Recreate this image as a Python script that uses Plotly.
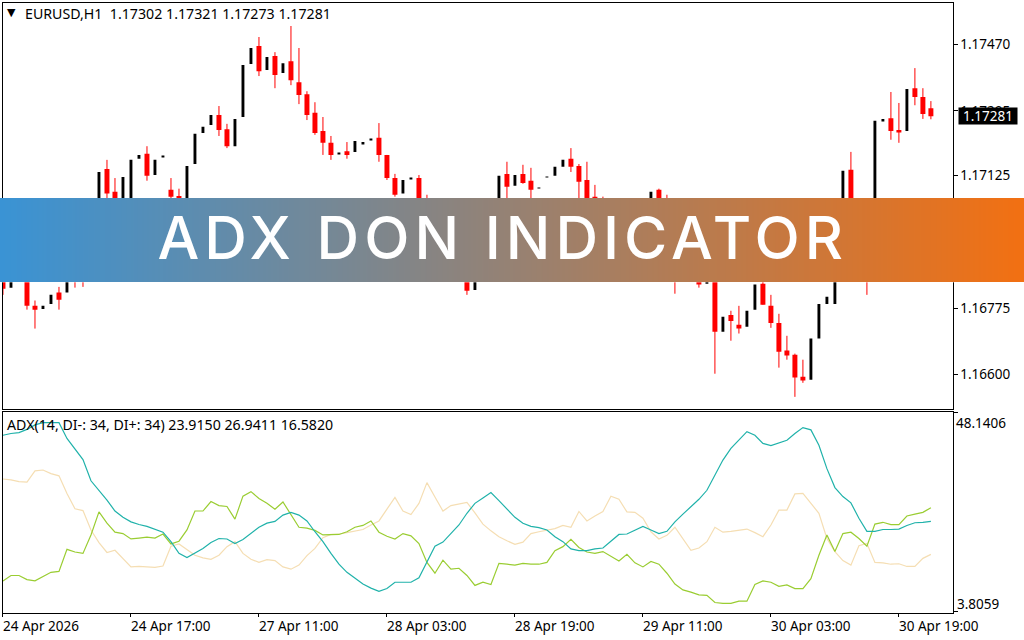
import plotly.graph_objects as go

symbol_line = "EURUSD,H1&nbsp;&nbsp;1.17302 1.17321 1.17273 1.17281"
adx_line = "ADX(14, DI-: 34, DI+: 34) 23.9150 26.9411 16.5820"
banner_text = "ADX DON INDICATOR"
last_price = "1.17281"

opens = [1.16981,1.16829,1.16862,1.16850,1.16781,1.16773,1.16786,1.16816,1.16816,1.16870,
1.16880,1.16860,1.16990,1.17142,1.17082,1.17000,1.17040,1.17169,1.17182,1.17126,
1.17173,1.17087,1.17071,1.17030,1.17155,1.17237,1.17258,1.17284,1.17247,1.17202,
1.17279,1.17419,1.17466,1.17403,1.17440,1.17395,1.17426,1.17371,1.17339,1.17290,
1.17242,1.17211,1.17181,1.17189,1.17187,1.17208,1.17218,1.17224,1.17179,1.17118,
1.17077,1.17115,1.17118,1.17040,1.17000,1.16960,1.16990,1.16930,1.16880,1.16823,
1.16880,1.16950,1.17010,1.17129,1.17098,1.17129,1.17111,1.17091,1.17120,1.17124,
1.17148,1.17169,1.17150,1.17113,1.17069,1.17040,1.17010,1.16980,1.17000,1.16970,
1.16990,1.17040,1.17087,1.17020,1.16960,1.16900,1.16880,1.16870,1.16839,1.16870,
1.16713,1.16757,1.16731,1.16726,1.16771,1.16839,1.16781,1.16736,1.16663,1.16652,
1.16594,1.16586,1.16695,1.16786,1.16786,1.16900,1.17140,1.16990,1.16950,1.16880,
1.17269,1.17276,1.17245,1.17242,1.17355,1.17332,1.17302]
closes = [1.16826,1.16862,1.16850,1.16781,1.16771,1.16781,1.16810,1.16797,1.16870,1.16850,
1.16855,1.16990,1.17134,1.17077,1.17000,1.17121,1.17166,1.17179,1.17124,1.17166,
1.17175,1.17069,1.17030,1.17150,1.17235,1.17253,1.17284,1.17245,1.17202,1.17274,
1.17416,1.17461,1.17400,1.17437,1.17390,1.17421,1.17376,1.17337,1.17284,1.17237,
1.17211,1.17179,1.17183,1.17179,1.17216,1.17213,1.17220,1.17179,1.17118,1.17074,
1.17113,1.17117,1.17040,1.17000,1.16960,1.16990,1.16930,1.16880,1.16821,1.16880,
1.16950,1.17010,1.17124,1.17095,1.17126,1.17105,1.17087,1.17093,1.17122,1.17148,
1.17166,1.17148,1.17108,1.17040,1.17050,1.17010,1.16980,1.17000,1.16970,1.16990,
1.17040,1.17082,1.17020,1.16960,1.16900,1.16880,1.16895,1.16837,1.16870,1.16713,
1.16752,1.16741,1.16721,1.16768,1.16837,1.16784,1.16736,1.16660,1.16650,1.16592,
1.16584,1.16695,1.16786,1.16805,1.16900,1.17137,1.16990,1.16950,1.16880,1.17269,
1.17274,1.17242,1.17240,1.17353,1.17332,1.17287,1.17281]
highs = [1.17008,1.16862,1.16875,1.16855,1.16795,1.16781,1.16810,1.16831,1.16870,1.16880,
1.16890,1.16990,1.17134,1.17166,1.17118,1.17121,1.17166,1.17179,1.17202,1.17166,
1.17175,1.17118,1.17090,1.17150,1.17235,1.17253,1.17284,1.17308,1.17261,1.17274,
1.17416,1.17461,1.17490,1.17437,1.17450,1.17421,1.17519,1.17461,1.17347,1.17318,
1.17279,1.17229,1.17183,1.17213,1.17216,1.17213,1.17220,1.17263,1.17179,1.17129,
1.17113,1.17117,1.17126,1.17074,1.17010,1.16990,1.17000,1.16945,1.16890,1.16880,
1.16950,1.17010,1.17124,1.17161,1.17126,1.17153,1.17145,1.17093,1.17122,1.17148,
1.17166,1.17197,1.17155,1.17161,1.17100,1.17069,1.17020,1.17000,1.17010,1.16990,
1.17040,1.17082,1.17090,1.17074,1.16970,1.16910,1.16895,1.16880,1.16870,1.16880,
1.16752,1.16768,1.16781,1.16768,1.16837,1.16860,1.16810,1.16760,1.16702,1.16655,
1.16639,1.16695,1.16786,1.16805,1.16900,1.17137,1.17187,1.17010,1.16960,1.17269,
1.17274,1.17345,1.17316,1.17353,1.17408,1.17355,1.17321]
lows = [1.16810,1.16829,1.16847,1.16771,1.16721,1.16773,1.16786,1.16771,1.16816,1.16829,
1.16831,1.16860,1.16990,1.17040,1.16990,1.17000,1.17040,1.17169,1.17111,1.17126,
1.17173,1.17040,1.17010,1.17030,1.17155,1.17237,1.17258,1.17229,1.17197,1.17202,
1.17279,1.17419,1.17387,1.17403,1.17355,1.17395,1.17363,1.17313,1.17271,1.17232,
1.17179,1.17166,1.17181,1.17169,1.17187,1.17208,1.17218,1.17161,1.17113,1.17069,
1.17077,1.17115,1.17020,1.16990,1.16950,1.16960,1.16920,1.16865,1.16810,1.16823,
1.16880,1.16950,1.17010,1.17040,1.17098,1.17103,1.17050,1.17091,1.17120,1.17124,
1.17148,1.17134,1.17030,1.17000,1.17040,1.17000,1.16970,1.16980,1.16960,1.16970,
1.16990,1.17040,1.17000,1.16940,1.16813,1.16870,1.16880,1.16829,1.16839,1.16602,
1.16713,1.16689,1.16708,1.16726,1.16771,1.16784,1.16723,1.16618,1.16639,1.16541,
1.16578,1.16586,1.16695,1.16786,1.16786,1.16900,1.16960,1.16930,1.16810,1.16880,
1.17269,1.17219,1.17211,1.17242,1.17310,1.17274,1.17273]

adx = [43.0,43.4,43.6,44.3,45.3,45.8,45.8,45.8,42.3,39.9,37.6,32.9,30.8,28.6,26.2,24.8,23.8,23.2,22.8,22.1,
21.5,19.4,16.8,15.9,16.9,17.9,19.2,20.1,20.0,19.0,19.9,21.2,22.6,23.5,23.9,25.3,25.9,25.3,24.0,21.6,
19.4,16.8,14.4,12.6,11.3,10.0,9.1,8.4,9.0,10.4,10.4,10.4,11.4,14.9,18.4,19.3,21.2,23.1,25.7,27.9,
29.1,30.3,28.5,26.7,24.8,23.5,22.8,22.5,22.0,20.5,19.4,17.8,17.4,17.4,17.8,18.0,19.5,21.0,21.1,22.0,
22.8,22.0,21.2,21.7,23.8,25.5,27.2,28.8,30.8,34.2,37.5,40.1,41.9,43.8,43.0,41.2,40.7,41.3,41.9,43.4,
44.7,44.2,40.8,35.6,31.4,29.4,28.0,24.6,21.7,21.7,22.1,22.1,22.2,23.0,23.6,23.7,23.915]
di_minus = [33.3,33.1,32.7,32.6,35.1,35.3,34.5,34.0,30.1,26.7,26.3,22.0,19.2,17.0,17.5,15.7,13.8,13.9,13.8,13.7,
14.0,18.4,18.9,17.7,16.4,15.8,15.5,16.4,18.3,19.4,16.8,15.5,14.8,15.4,15.2,13.8,13.3,14.2,16.3,17.9,
20.3,21.0,21.1,21.4,21.7,22.1,23.1,24.0,26.6,29.2,26.2,25.4,27.9,32.5,29.3,26.2,27.4,27.7,28.1,25.8,
23.3,21.8,20.5,19.6,18.8,19.3,21.2,21.6,21.9,22.3,23.0,22.6,26.1,24.0,25.1,26.1,29.5,28.8,26.0,25.9,
24.6,21.6,20.0,20.8,22.6,20.1,17.5,18.0,19.4,22.6,21.5,21.7,22.0,22.2,21.4,20.5,23.1,26.4,26.4,30.0,
30.1,27.9,25.7,20.1,17.2,15.2,14.2,18.5,19.0,14.8,14.7,14.4,14.5,13.9,13.9,15.7,16.582]
di_plus = [10.7,11.9,11.9,11.0,10.7,11.6,12.6,12.8,17.7,17.1,16.8,20.9,26.0,23.5,21.5,21.2,20.0,20.2,20.4,20.2,
21.1,18.9,19.5,22.0,26.2,26.2,28.3,27.4,27.2,24.4,29.5,30.5,29.0,27.9,26.6,28.2,25.3,22.6,22.4,21.9,
20.9,20.9,21.0,21.6,22.6,23.0,24.0,21.5,20.6,20.0,21.2,20.7,19.0,14.8,12.4,15.3,13.3,13.5,11.9,9.7,
10.4,9.9,14.6,14.4,14.2,14.6,14.4,14.4,14.8,17.4,18.3,19.9,18.1,17.1,16.8,17.2,16.2,15.1,16.6,14.7,
13.8,15.0,14.4,12.4,10.0,8.7,8.2,7.6,7.5,5.9,5.7,5.7,6.2,6.2,9.9,10.7,10.4,9.5,9.8,9.0,
9.0,11.2,16.4,20.9,17.2,21.2,21.5,20.1,18.4,23.3,23.7,23.2,23.2,25.1,25.5,25.9,26.941]

price_ticks = [1.17470, 1.17295, 1.17125, 1.16950, 1.16775, 1.16600]
adx_ticks = [48.1406, 3.8059]
time_positions = [0, 16, 32, 48, 64, 80, 96, 112]
time_labels = ["24 Apr 2026", "24 Apr 17:00", "27 Apr 11:00", "28 Apr 03:00",
               "28 Apr 19:00", "29 Apr 11:00", "30 Apr 03:00", "30 Apr 19:00"]
banner_colors = ["#3A93D4", "#F27012"]

W, H = 1024, 640
FONT = "Noto Sans"
FS = 13.5
LEG = 14.2
def px(v): return v / W
def py(v): return 1 - v / H

bars = list(range(len(opens)))
up = [i for i in bars if closes[i] >= opens[i]]
dn = [i for i in bars if closes[i] < opens[i]]

fig = go.Figure()

wx, wy = [], []
for i in dn:
    wx += [i, i, None]
    wy += [lows[i], highs[i], None]
fig.add_trace(go.Scatter(x=wx, y=wy, mode="lines", line=dict(color="#FF0000", width=1),
                         xaxis="x", yaxis="y", hoverinfo="skip"))
fig.add_trace(go.Bar(x=up, base=[opens[i] for i in up], y=[closes[i] - opens[i] for i in up],
                     width=0.36, marker=dict(color="#000000", line=dict(width=0)),
                     xaxis="x", yaxis="y"))
fig.add_trace(go.Bar(x=dn, base=[closes[i] for i in dn], y=[opens[i] - closes[i] for i in dn],
                     width=0.62, marker=dict(color="#FF0000", line=dict(width=0)),
                     xaxis="x", yaxis="y"))

for vals, col in ((di_minus, "#F5DEB3"), (di_plus, "#9ACD32"), (adx, "#20B2AA")):
    fig.add_trace(go.Scatter(x=bars, y=vals, mode="lines", line=dict(color=col, width=1.2),
                             xaxis="x2", yaxis="y2"))

steps = list(range(256))
fig.add_trace(go.Heatmap(z=[steps], colorscale=[[0, banner_colors[0]], [1, banner_colors[1]]],
                         showscale=False, xaxis="x3", yaxis="y3", hoverinfo="skip", zsmooth="best"))

anns = []
for pos, lab in zip(time_positions, time_labels):
    anns.append(dict(x=pos, y=py(626), xref="x2", yref="paper", text=lab, xanchor="left",
                     yanchor="middle", xshift=-2, showarrow=False))
anns += [
    dict(x=px(23), y=py(14), xref="paper", yref="paper", text=symbol_line, xanchor="left",
         yanchor="middle", showarrow=False, font=dict(family=FONT, size=LEG)),
    dict(x=px(5), y=py(424), xref="paper", yref="paper", text=adx_line, xanchor="left",
         yanchor="middle", showarrow=False, font=dict(family=FONT, size=LEG)),
    dict(x=px(954), y=py(423), xref="paper", yref="paper", text=f"{adx_ticks[0]:.4f}", xanchor="left",
         yanchor="middle", showarrow=False),
    dict(x=px(955), y=py(604), xref="paper", yref="paper", text=f"{adx_ticks[1]:.4f}", xanchor="left",
         yanchor="middle", showarrow=False),
    dict(x=px(958), y=float(closes[-1]), xref="paper", yref="y", text=last_price, xanchor="left",
         yanchor="middle", showarrow=False, bgcolor="#000000", font=dict(color="#FFFFFF", family=FONT, size=FS),
         borderpad=0, width=58, height=16, align="center"),
    dict(x=px(502.5), y=py(238), xref="paper", yref="paper", text=banner_text, xanchor="center",
         yanchor="middle", showarrow=False, font=dict(family="Inter", size=59, color="#FFFFFF", weight=500)),
    dict(x=px(11.5), y=py(13), xref="paper", yref="paper", text="▼", xanchor="center",
         yanchor="middle", showarrow=False, font=dict(family="DejaVu Sans", size=11, color="#000000")),
]

axis_common = dict(showgrid=False, zeroline=False, showline=True, linecolor="#000000", linewidth=1, mirror=True)
fig.update_layout(
    width=W, height=H, margin=dict(l=0, r=0, t=0, b=0), autosize=False,
    paper_bgcolor="#FFFFFF", plot_bgcolor="#FFFFFF", showlegend=False, barmode="overlay",
    font=dict(family=FONT, size=FS, color="#000000"),
    annotations=anns,
    xaxis=dict(domain=[px(2.5), px(952.5)], range=[-0.06, 118.7], anchor="y", showticklabels=False,
               ticks="", **axis_common),
    yaxis=dict(domain=[py(408.6), py(2.5)], range=[1.16510, 1.17581], anchor="x", side="right",
               tickmode="array", tickvals=price_ticks, ticktext=[f"{v:.5f}" for v in price_ticks],
               ticks="outside", ticklen=4, tickcolor="#000000", tickfont=dict(family=FONT, size=FS), **axis_common),
    xaxis2=dict(domain=[px(2.5), px(952.5)], range=[-0.06, 118.7], anchor="y2", tickmode="array",
                tickvals=time_positions, ticktext=[""] * len(time_positions), ticks="outside", ticklen=3,
                tickcolor="#000000", **axis_common),
    yaxis2=dict(domain=[py(613), py(411.6)], range=[3.58, 48.25], anchor="x2", side="right",
                tickmode="array", tickvals=adx_ticks, ticktext=["", ""], ticks="outside", ticklen=4,
                tickcolor="#000000", **axis_common),
    xaxis3=dict(domain=[0, 1], range=[-0.5, 255.5], anchor="y3", visible=False),
    yaxis3=dict(domain=[py(282.3), py(198)], range=[-0.5, 0.5], anchor="x3", visible=False),
)

fig.write_html("out.html", config={"displayModeBar": False},
               post_script=("document.body.style.margin='0';document.body.style.overflow='hidden';"
                            "document.querySelectorAll('.annotation-text').forEach(function(t){"
                            "if(t.textContent==='" + banner_text + "'){t.style.letterSpacing='5px';}});"))
